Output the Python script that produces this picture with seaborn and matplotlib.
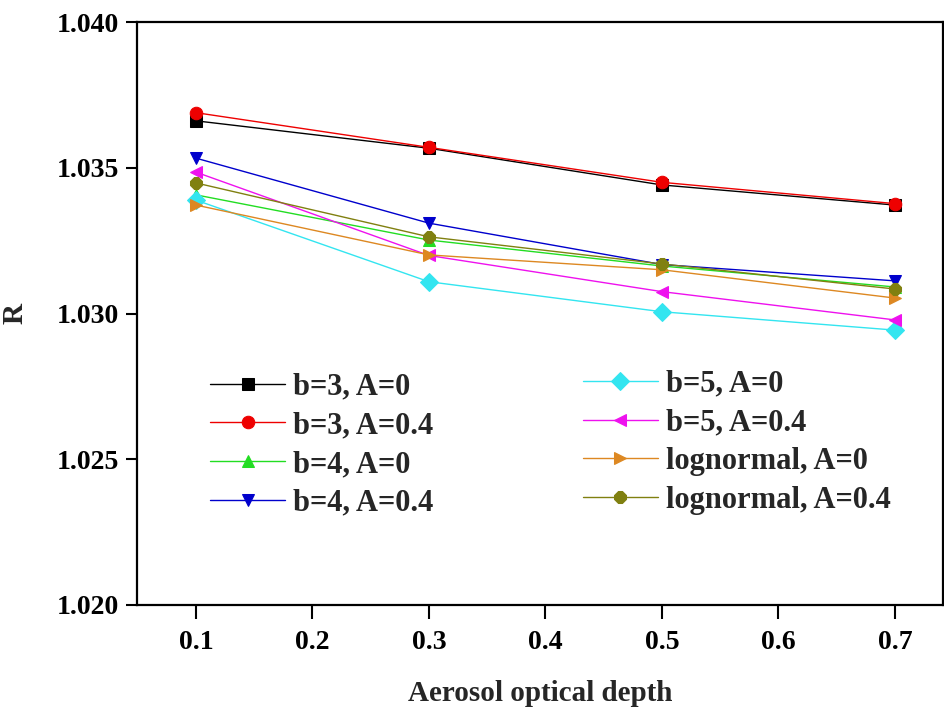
import matplotlib
matplotlib.use("Agg")
import matplotlib.pyplot as plt
import seaborn as sns
import pandas as pd

# aerosol optical depth
aod = [0.1, 0.3, 0.5, 0.7]

# R values
r_b3_a0 = [1.03661, 1.03567, 1.03441, 1.03372]
r_b3_a04 = [1.03689, 1.03570, 1.03450, 1.03377]
r_b4_a0 = [1.03407, 1.03252, 1.03163, 1.03091]
r_b4_a04 = [1.03533, 1.03310, 1.03168, 1.03112]
r_b5_a0 = [1.03389, 1.03109, 1.03006, 1.02943]
r_b5_a04 = [1.03485, 1.03199, 1.03075, 1.02978]
r_logn_a0 = [1.03372, 1.03201, 1.03150, 1.03053]
r_logn_a04 = [1.03448, 1.03263, 1.03170, 1.03084]

labels = ["b=3, A=0", "b=3, A=0.4", "b=4, A=0", "b=4, A=0.4",
          "b=5, A=0", "b=5, A=0.4", "lognormal, A=0", "lognormal, A=0.4"]
series = [r_b3_a0, r_b3_a04, r_b4_a0, r_b4_a04,
          r_b5_a0, r_b5_a04, r_logn_a0, r_logn_a04]
colors = ["#000000", "#ee0000", "#22dd22", "#0000cc",
          "#33e5f0", "#ee11ee", "#dd8822", "#808010"]
markers = ["s", "o", "^", "v", "D", "<", ">", "8"]

df = pd.concat([pd.DataFrame({"aod": aod, "R": s, "case": l})
                for s, l in zip(series, labels)], ignore_index=True)

sns.set_style("ticks")
plt.rcParams["font.family"] = ["Liberation Serif", "DejaVu Serif"]
plt.rcParams["font.weight"] = "bold"

fig = plt.figure(figsize=(9.44, 7.08), dpi=100)
ax = fig.add_axes([0.1451, 0.1455, 0.8538, 0.8234])

for lab, col, mk in zip(labels, colors, markers):
    sub = df[df["case"] == lab]
    sns.lineplot(data=sub, x="aod", y="R", ax=ax, color=col, marker=mk,
                 markersize=9, markeredgecolor=col, linewidth=1.0,
                 label=lab, legend=False)

ax.set_xlim(0.0494, 0.7412)
ax.set_ylim(1.020, 1.040)
ax.set_xticks([0.1, 0.2, 0.3, 0.4, 0.5, 0.6, 0.7])
ax.set_yticks([1.020, 1.025, 1.030, 1.035, 1.040])
ax.set_yticklabels(["1.020", "1.025", "1.030", "1.035", "1.040"])
ax.tick_params(axis="both", direction="out", labelsize=20, width=1.5, colors="black")
ax.tick_params(axis="x", length=10, pad=8)
ax.tick_params(axis="y", length=8, pad=5)
for t in ax.get_xticklabels() + ax.get_yticklabels():
    t.set_fontweight("bold")
for sp in ax.spines.values():
    sp.set_linewidth(1.6)
    sp.set_visible(True)
    sp.set_color("black")

ax.set_xlabel("Aerosol optical depth", fontsize=21, fontweight="bold", labelpad=18)
ax.set_ylabel("R", fontsize=21, fontweight="bold", labelpad=20)

handles, hlabels = ax.get_legend_handles_labels()
leg_kw = dict(frameon=False, handlelength=2.45, handletextpad=0.26,
              labelspacing=0.32, borderaxespad=0, prop={"weight": "bold", "size": 22})
leg1 = ax.legend(handles[:4], hlabels[:4], loc="upper left",
                 bbox_to_anchor=(0.076, 0.42), **leg_kw)
ax.add_artist(leg1)
ax.legend(handles[4:], hlabels[4:], loc="upper left",
          bbox_to_anchor=(0.538, 0.425), **leg_kw)

fig.savefig("out.png", dpi=100)
